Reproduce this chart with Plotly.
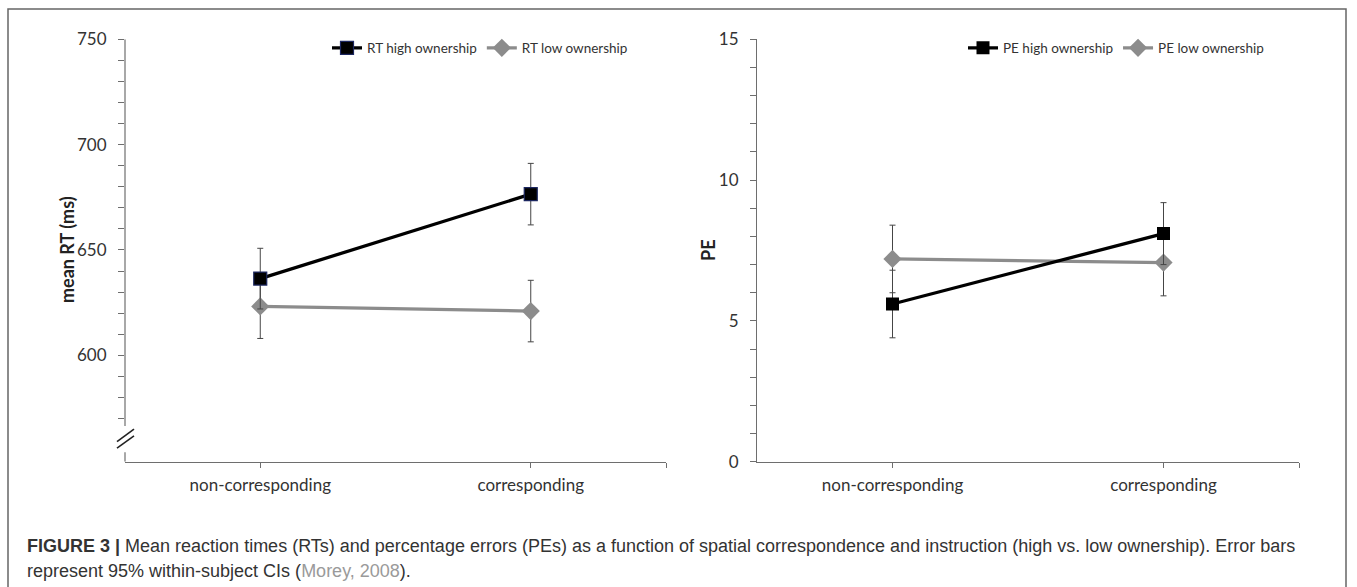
import plotly.graph_objects as go

# ---------------- data ----------------
categories = ["non-corresponding", "corresponding"]
cat_pos = [0, 1]

rt_high = [636.4, 676.5]
rt_high_ci = [14.4, 14.6]
rt_low = [623.2, 621.0]
rt_low_ci = [15.2, 14.6]

pe_high = [5.6, 8.1]
pe_high_ci = [1.2, 1.1]
pe_low = [7.2, 7.07]
pe_low_ci = [1.2, 1.18]

rt_major_ticks = [600, 650, 700, 750]
rt_all_ticks = list(range(570, 751, 10))
pe_major_ticks = [0, 5, 10, 15]
pe_all_ticks = list(range(0, 16, 1))

W, H = 1357, 587
FONT = "Lato"
AXIS_COL = "#6e6e6e"
TXT_COL = "#333333"
GRAY = "#8c8c8c"
ERR_COL = "#454545"


def px_x(p):
    return p / W


def px_y(p):
    return 1 - p / H


fig = go.Figure()

# ---- RT panel ----
fig.add_trace(go.Scatter(
    x=cat_pos, y=rt_low, name="RT low ownership", mode="lines+markers",
    line=dict(color=GRAY, width=3.3),
    marker=dict(symbol="diamond", size=14, color=GRAY),
    error_y=dict(type="data", array=rt_low_ci, color=ERR_COL, thickness=1, width=3),
    xaxis="x", yaxis="y", legend="legend", legendrank=2))
fig.add_trace(go.Scatter(
    x=cat_pos, y=rt_high, name="RT high ownership", mode="lines+markers",
    line=dict(color="#000000", width=3.3),
    marker=dict(symbol="square", size=13, color="#000000", line=dict(color="#1c2760", width=1.2)),
    error_y=dict(type="data", array=rt_high_ci, color=ERR_COL, thickness=1, width=3),
    xaxis="x", yaxis="y", legend="legend", legendrank=1))

# ---- PE panel ----
fig.add_trace(go.Scatter(
    x=cat_pos, y=pe_low, name="PE low ownership", mode="lines+markers",
    line=dict(color=GRAY, width=3.3),
    marker=dict(symbol="diamond", size=14, color=GRAY),
    error_y=dict(type="data", array=pe_low_ci, color=ERR_COL, thickness=1, width=3),
    xaxis="x2", yaxis="y2", legend="legend2", legendrank=2))
fig.add_trace(go.Scatter(
    x=cat_pos, y=pe_high, name="PE high ownership", mode="lines+markers",
    line=dict(color="#000000", width=3.3),
    marker=dict(symbol="square", size=13, color="#000000"),
    error_y=dict(type="data", array=pe_high_ci, color=ERR_COL, thickness=1, width=3),
    xaxis="x2", yaxis="y2", legend="legend2", legendrank=1))

y_bottom = px_y(461.7)
y_top = px_y(39.3)

xcommon = dict(
    range=[-0.5, 1.5], tickmode="array", tickvals=cat_pos + [1.5],
    ticktext=categories + [""], ticks="outside", ticklen=5, tickwidth=1,
    tickcolor=AXIS_COL, showline=True, linecolor=AXIS_COL, linewidth=1.2,
    showgrid=False, zeroline=False, fixedrange=True, automargin=False,
    tickfont=dict(family=FONT, size=17, color=TXT_COL), ticklabelstandoff=3,
)

rt_text = [str(v) if v in rt_major_ticks else "" for v in rt_all_ticks]
pe_text = [str(v) if v in pe_major_ticks else "" for v in pe_all_ticks]

ycommon = dict(
    ticks="outside", ticklen=6, tickwidth=1, tickcolor=AXIS_COL,
    showgrid=False, zeroline=False, tickmode="array", automargin=False,
    fixedrange=True,
    tickfont=dict(family=FONT, size=17, color=TXT_COL), ticklabelstandoff=8,
)

fig.update_layout(
    width=W, height=H,
    margin=dict(l=0, r=0, t=0, b=0, autoexpand=False),
    paper_bgcolor="white", plot_bgcolor="white",
    xaxis=dict(domain=[px_x(125), px_x(666)], anchor="y", **xcommon),
    xaxis2=dict(domain=[px_x(757), px_x(1299)], anchor="y2", **xcommon),
    yaxis=dict(domain=[y_bottom, y_top], anchor="x", range=[549.5, 750],
               tickvals=rt_all_ticks, ticktext=rt_text, showline=False, **ycommon),
    yaxis2=dict(domain=[y_bottom, y_top], anchor="x2", range=[0, 15],
                tickvals=pe_all_ticks, ticktext=pe_text, showline=True,
                linecolor=AXIS_COL, linewidth=1.2, **ycommon),
    legend=dict(orientation="h", x=px_x(327), y=px_y(48), xanchor="left", yanchor="middle",
                font=dict(family=FONT, size=13.5, color=TXT_COL), bgcolor="rgba(0,0,0,0)",
                traceorder="normal", itemclick=False),
    legend2=dict(orientation="h", x=px_x(963), y=px_y(48), xanchor="left", yanchor="middle",
                 font=dict(family=FONT, size=13.5, color=TXT_COL), bgcolor="rgba(0,0,0,0)",
                 traceorder="normal", itemclick=False),
    showlegend=True,
)

# broken y axis line on the RT panel
fig.add_shape(type="line", xref="x domain", yref="y", x0=0, x1=0, y0=566.5, y1=750,
              line=dict(color=AXIS_COL, width=1.2))
fig.add_shape(type="line", xref="x domain", yref="y", x0=0, x1=0, y0=549.5, y1=554,
              line=dict(color=AXIS_COL, width=1.2))
for y0, y1 in [(559.0, 565.0), (555.9, 561.8)]:
    fig.add_shape(type="line", xref="x domain", yref="y", x0=-8 / 541, x1=9 / 541,
                  y0=y0, y1=y1, line=dict(color="#222222", width=1.6))

# axis titles
fig.add_annotation(text="<b>mean RT (ms)</b>", xref="paper", yref="paper",
                   x=px_x(67), y=px_y(250), xanchor="center", yanchor="middle",
                   textangle=-90, showarrow=False,
                   font=dict(family=FONT, size=18, color="#222222"))
fig.add_annotation(text="<b>PE</b>", xref="paper", yref="paper",
                   x=px_x(708), y=px_y(250), xanchor="center", yanchor="middle",
                   textangle=-90, showarrow=False,
                   font=dict(family=FONT, size=18, color="#222222"))

# frame
fig.add_shape(type="rect", xref="paper", yref="paper", x0=px_x(8), x1=px_x(1346),
              y0=-0.05, y1=px_y(9), line=dict(color="#666666", width=1.5))

# caption
cap_font = dict(family="Liberation Sans", size=18, color="#333333")
fig.add_annotation(
    text="<b>FIGURE 3 |</b> Mean reaction times (RTs) and percentage errors (PEs) as a function of "
         "spatial correspondence and instruction (high vs. low ownership). Error bars",
    xref="paper", yref="paper", x=px_x(25), y=px_y(546), xanchor="left", yanchor="middle",
    showarrow=False, font=cap_font)
fig.add_annotation(
    text="represent 95% within-subject CIs (<span style='color:#9a9a9a'>Morey, 2008</span>).",
    xref="paper", yref="paper", x=px_x(25), y=px_y(571), xanchor="left", yanchor="middle",
    showarrow=False, font=cap_font)

fig.write_html("out.html", config={"displayModeBar": False},
               post_script="document.body.style.margin='0px';")
